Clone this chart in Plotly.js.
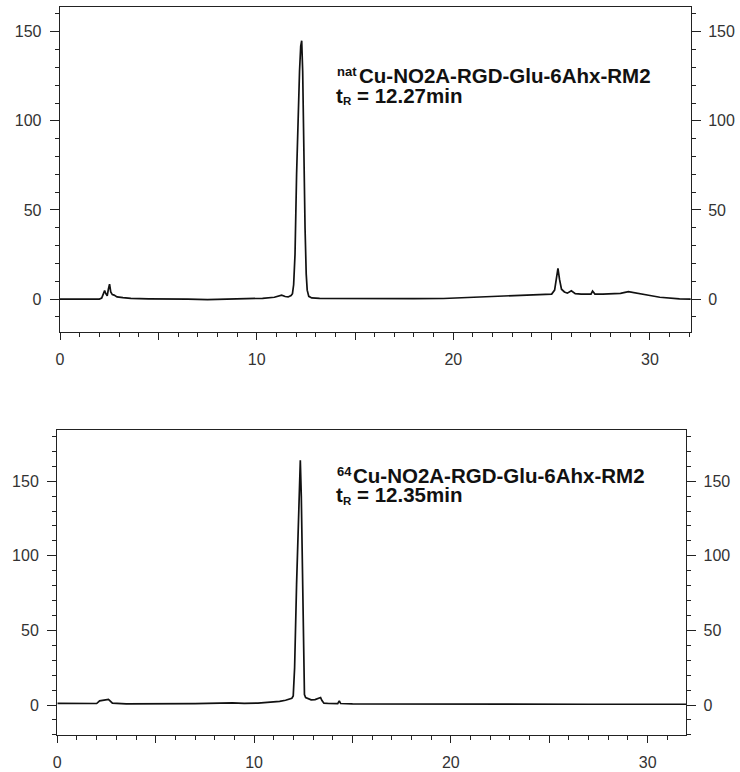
<!DOCTYPE html>
<html>
<head>
<meta charset="utf-8">
<script src="https://cdn.plot.ly/plotly-3.0.1.min.js"></script>
<style>html,body{margin:0;padding:0;background:#fff;}#chart{width:740px;height:772px;}</style>
</head>
<body>
<div id="chart"></div>
<script>
// Top chromatogram: natCu-NO2A-RGD-Glu-6Ahx-RM2 (time in min, signal)
const timeNat = [0, 2.0, 2.12, 2.2, 2.27, 2.33, 2.4, 2.46, 2.52, 2.58, 2.66, 2.75, 2.9, 3.2, 3.6, 4.5, 5.5, 6.5, 7.5, 8.5, 9.5, 10.3, 10.9, 11.1, 11.27, 11.45, 11.6, 11.75, 11.82, 11.88, 11.95, 12.03, 12.1, 12.18, 12.24, 12.29, 12.34, 12.4, 12.46, 12.52, 12.57, 12.65, 12.8, 13.2, 14, 16, 18, 19.5, 20.2, 21, 22, 22.7, 23.5, 24.4, 25.0, 25.15, 25.25, 25.32, 25.4, 25.5, 25.65, 25.8, 26.0, 26.2, 26.5, 27.0, 27.08, 27.2, 27.6, 28.0, 28.5, 28.9, 29.2, 29.5, 30.0, 30.5, 31.0, 31.5, 32.1];
const signalNat = [0, 0, 0.5, 3.5, 4.7, 3.0, 1.8, 5.5, 8.4, 4.0, 2.5, 2.2, 1.2, 0.8, 0.4, 0.1, -0.2, -0.1, -0.3, -0.1, 0.0, 0.4, 1.0, 1.8, 2.2, 1.4, 1.2, 2.0, 3.0, 8, 25, 70, 100, 128, 142, 145, 128, 76, 40, 14, 5, 1.5, 0.6, 0.4, 0.3, 0.2, 0.2, 0.3, 0.6, 1.0, 1.5, 1.8, 2.0, 2.3, 2.8, 5, 14, 17.2, 11, 5.5, 4.0, 3.3, 4.6, 3.0, 2.8, 2.8, 4.5, 2.8, 2.8, 3.0, 3.2, 4.1, 3.6, 2.9, 2.0, 1.0, 0.5, 0.1, 0];

// Bottom chromatogram: 64Cu-NO2A-RGD-Glu-6Ahx-RM2
const time64 = [0, 1.0, 2.0, 2.15, 2.3, 2.45, 2.6, 2.68, 2.8, 3.5, 5, 7, 8.9, 9.5, 10.2, 10.8, 11.3, 11.6, 11.82, 11.92, 11.99, 12.06, 12.16, 12.25, 12.3, 12.35, 12.4, 12.47, 12.52, 12.56, 12.62, 12.75, 12.9, 13.1, 13.3, 13.38, 13.45, 13.55, 13.8, 14.25, 14.33, 14.4, 15, 18, 21, 24, 27, 30, 32];
const signal64 = [1.1, 1.0, 1.0, 2.8, 3.0, 3.2, 3.8, 2.8, 1.2, 0.8, 0.7, 0.9, 1.4, 1.1, 1.3, 1.7, 2.4, 3.2, 3.8, 4.5, 6, 25, 81, 125, 152, 164, 140, 81, 25, 7, 5, 4.5, 3.5, 3.6, 4.6, 5.0, 3.0, 1.2, 1.0, 0.9, 2.8, 1.0, 0.8, 0.6, 0.6, 0.5, 0.5, 0.5, 0.5];

// Axis tick definitions
const xTickVals = [0, 5, 10, 15, 20, 25, 30];
const xTickText = ['0', '', '10', '', '20', '', '30'];
const yTickVals = [0, 50, 100, 150];

// Annotation texts (pieces: isotope prefix, compound name, t, subscript, retention time)
const prefixNat = 'nat';
const nameNat = 'Cu-NO2A-RGD-Glu-6Ahx-RM2';
const rtNat = '= 12.27min';
const prefix64 = '64';
const name64 = 'Cu-NO2A-RGD-Glu-6Ahx-RM2';
const rt64 = '= 12.35min';

const W = 740, H = 772;
const px = v => v / W;
const py = v => 1 - v / H;

const axisColor = '#222';
const tickFont = {family: 'Liberation Sans, Arial, sans-serif', size: 16, color: '#333'};

function xAxis(domain, anchor, rmax) {
  return {
    domain: domain, anchor: anchor, range: [0, rmax],
    tickmode: 'array', tickvals: xTickVals, ticktext: xTickText,
    ticks: 'outside', ticklen: 7, tickwidth: 1, tickcolor: axisColor,
    minor: {tickmode: 'linear', tick0: 0, dtick: 1, ticks: 'outside', ticklen: 4, tickwidth: 1, tickcolor: axisColor, showgrid: false},
    showline: true, linecolor: axisColor, linewidth: 1.3, mirror: true,
    showgrid: false, zeroline: false, tickfont: tickFont, ticklabelstandoff: 5, fixedrange: true
  };
}
function yAxis(domain, anchor, range, side, overlay) {
  const a = {
    domain: domain, anchor: anchor, range: range, side: side,
    tickmode: 'array', tickvals: yTickVals,
    ticks: 'outside', ticklen: 9, tickwidth: 1, tickcolor: axisColor,
    minor: {tickmode: 'linear', tick0: 0, dtick: 10, ticks: 'outside', ticklen: 4, tickwidth: 1, tickcolor: axisColor, showgrid: false},
    showline: true, linecolor: axisColor, linewidth: 1.3,
    showgrid: false, zeroline: false, tickfont: tickFont, ticklabelstandoff: side === 'left' ? 5 : 4, fixedrange: true
  };
  if (overlay) a.overlaying = overlay;
  return a;
}

const lineStyle = {color: '#111', width: 1.7};
const traces = [
  {x: timeNat, y: signalNat, xaxis: 'x', yaxis: 'y', type: 'scatter', mode: 'lines', line: lineStyle, hoverinfo: 'skip', showlegend: false},
  {x: time64, y: signal64, xaxis: 'x2', yaxis: 'y2', type: 'scatter', mode: 'lines', line: lineStyle, hoverinfo: 'skip', showlegend: false},
  // same data attached to the right-hand axes (transparent) so those axes get drawn
  {x: timeNat, y: signalNat, xaxis: 'x', yaxis: 'y3', type: 'scatter', mode: 'lines', line: lineStyle, opacity: 0, hoverinfo: 'skip', showlegend: false},
  {x: time64, y: signal64, xaxis: 'x2', yaxis: 'y4', type: 'scatter', mode: 'lines', line: lineStyle, opacity: 0, hoverinfo: 'skip', showlegend: false}
];

const fam = 'Liberation Sans, Arial, sans-serif';
function ann(text, x, y, size) {
  return {text: '<b>' + text + '</b>', xref: 'paper', yref: 'paper', x: px(x), y: py(y),
    xanchor: 'left', yanchor: 'middle', showarrow: false, borderpad: 0,
    font: {family: fam, size: size, color: '#111'}, align: 'left'};
}

const layout = {
  width: W, height: H,
  margin: {l: 0, r: 0, t: 0, b: 0},
  paper_bgcolor: '#fff', plot_bgcolor: '#fff',
  showlegend: false,
  xaxis: xAxis([px(60), px(690.7)], 'y', 32.07),
  yaxis: yAxis([py(332), py(7)], 'x', [-18.5, 163.9], 'left'),
  yaxis3: yAxis([py(332), py(7)], 'x', [-18.5, 163.9], 'right', 'y'),
  xaxis2: xAxis([px(57.3), px(686)], 'y2', 31.95),
  yaxis2: yAxis([py(735), py(430)], 'x2', [-20.1, 184.3], 'left'),
  yaxis4: yAxis([py(735), py(430)], 'x2', [-20.1, 184.3], 'right', 'y2'),
  annotations: [
    ann(prefixNat, 335.5, 71.5, 13),
    ann(nameNat, 358, 75.5, 20.5),
    ann('t', 335, 95, 20.5),
    ann('R', 342, 101, 11.5),
    ann(rtNat, 356, 95, 20.5),
    ann(prefix64, 335.5, 471.5, 13),
    ann(name64, 352, 475.5, 20.5),
    ann('t', 335, 495, 20.5),
    ann('R', 342, 501, 11.5),
    ann(rt64, 356, 495, 20.5)
  ]
};

Plotly.newPlot('chart', traces, layout, {staticPlot: true, displayModeBar: false});
</script>
</body>
</html>
